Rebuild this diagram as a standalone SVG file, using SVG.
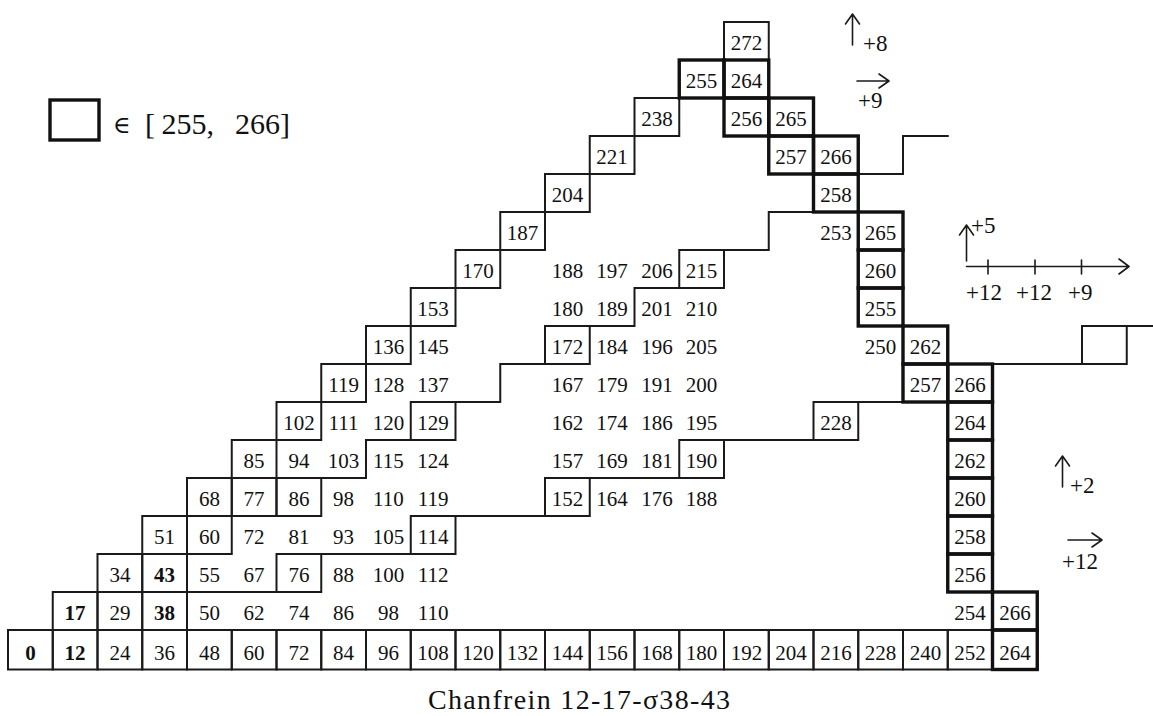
<svg xmlns="http://www.w3.org/2000/svg" width="1153" height="716" viewBox="0 0 1153 716">
<style>
.t{font-family:"Liberation Serif","Times New Roman",serif;font-size:21px;text-anchor:middle;fill:#111}
.b{font-weight:bold}
.bx{fill:none;stroke:#1a1a1a;stroke-width:2}
.tk{fill:none;stroke:#111;stroke-width:3.4}
.ln{fill:none;stroke:#1a1a1a;stroke-width:2;stroke-linecap:square}
.ar{fill:none;stroke:#1a1a1a;stroke-width:1.6;stroke-linecap:round;stroke-linejoin:round}
.lb{font-family:"Liberation Serif","Times New Roman",serif;font-size:23px;fill:#111}
</style>
<rect width="1153" height="716" fill="#fff"/>

<!-- row 0 -->
<g id="r0c0"><rect class="bx" x="8" y="630" width="44.75" height="39.5"/><text class="t b" x="30.4" y="659.5">0</text></g>
<g id="r0c1"><rect class="bx" x="52.75" y="630" width="44.75" height="39.5"/><text class="t b" x="75.1" y="659.5">12</text></g>
<g id="r0c2"><rect class="bx" x="97.5" y="630" width="44.75" height="39.5"/><text class="t" x="119.9" y="659.5">24</text></g>
<g id="r0c3"><rect class="bx" x="142.25" y="630" width="44.75" height="39.5"/><text class="t" x="164.6" y="659.5">36</text></g>
<g id="r0c4"><rect class="bx" x="187" y="630" width="44.75" height="39.5"/><text class="t" x="209.4" y="659.5">48</text></g>
<g id="r0c5"><rect class="bx" x="231.75" y="630" width="44.75" height="39.5"/><text class="t" x="254.1" y="659.5">60</text></g>
<g id="r0c6"><rect class="bx" x="276.5" y="630" width="44.75" height="39.5"/><text class="t" x="298.9" y="659.5">72</text></g>
<g id="r0c7"><rect class="bx" x="321.25" y="630" width="44.75" height="39.5"/><text class="t" x="343.6" y="659.5">84</text></g>
<g id="r0c8"><rect class="bx" x="366" y="630" width="44.75" height="39.5"/><text class="t" x="388.4" y="659.5">96</text></g>
<g id="r0c9"><rect class="bx" x="410.75" y="630" width="44.75" height="39.5"/><text class="t" x="433.1" y="659.5">108</text></g>
<g id="r0c10"><rect class="bx" x="455.5" y="630" width="44.75" height="39.5"/><text class="t" x="477.9" y="659.5">120</text></g>
<g id="r0c11"><rect class="bx" x="500.25" y="630" width="44.75" height="39.5"/><text class="t" x="522.6" y="659.5">132</text></g>
<g id="r0c12"><rect class="bx" x="545" y="630" width="44.75" height="39.5"/><text class="t" x="567.4" y="659.5">144</text></g>
<g id="r0c13"><rect class="bx" x="589.75" y="630" width="44.75" height="39.5"/><text class="t" x="612.1" y="659.5">156</text></g>
<g id="r0c14"><rect class="bx" x="634.5" y="630" width="44.75" height="39.5"/><text class="t" x="656.9" y="659.5">168</text></g>
<g id="r0c15"><rect class="bx" x="679.25" y="630" width="44.75" height="39.5"/><text class="t" x="701.6" y="659.5">180</text></g>
<g id="r0c16"><rect class="bx" x="724" y="630" width="44.75" height="39.5"/><text class="t" x="746.4" y="659.5">192</text></g>
<g id="r0c17"><rect class="bx" x="768.75" y="630" width="44.75" height="39.5"/><text class="t" x="791.1" y="659.5">204</text></g>
<g id="r0c18"><rect class="bx" x="813.5" y="630" width="44.75" height="39.5"/><text class="t" x="835.9" y="659.5">216</text></g>
<g id="r0c19"><rect class="bx" x="858.25" y="630" width="44.75" height="39.5"/><text class="t" x="880.6" y="659.5">228</text></g>
<g id="r0c20"><rect class="bx" x="903" y="630" width="44.75" height="39.5"/><text class="t" x="925.4" y="659.5">240</text></g>
<g id="r0c21"><rect class="bx" x="947.75" y="630" width="44.75" height="39.5"/><text class="t" x="970.1" y="659.5">252</text></g>

<!-- row 1 -->
<g id="r1c1"><rect class="bx" x="52.75" y="592" width="44.75" height="38"/><text class="t b" x="75.1" y="619.5">17</text></g>
<g id="r1c2"><rect class="bx" x="97.5" y="592" width="44.75" height="38"/><text class="t" x="119.9" y="619.5">29</text></g>
<g id="r1c3"><rect class="bx" x="142.25" y="592" width="44.75" height="38"/><text class="t b" x="164.6" y="619.5">38</text></g>
<g id="r1c4"><text class="t" x="209.4" y="619.5">50</text></g>
<g id="r1c5"><text class="t" x="254.1" y="619.5">62</text></g>
<g id="r1c6"><text class="t" x="298.9" y="619.5">74</text></g>
<g id="r1c7"><text class="t" x="343.6" y="619.5">86</text></g>
<g id="r1c8"><text class="t" x="388.4" y="619.5">98</text></g>
<g id="r1c9"><text class="t" x="433.1" y="619.5">110</text></g>
<g id="r1c21"><text class="t" x="970.1" y="619.5">254</text></g>

<!-- row 2 -->
<g id="r2c2"><rect class="bx" x="97.5" y="554" width="44.75" height="38"/><text class="t" x="119.9" y="581.5">34</text></g>
<g id="r2c3"><rect class="bx" x="142.25" y="554" width="44.75" height="38"/><text class="t b" x="164.6" y="581.5">43</text></g>
<g id="r2c4"><text class="t" x="209.4" y="581.5">55</text></g>
<g id="r2c5"><text class="t" x="254.1" y="581.5">67</text></g>
<g id="r2c6"><rect class="bx" x="276.5" y="554" width="44.75" height="38"/><text class="t" x="298.9" y="581.5">76</text></g>
<g id="r2c7"><text class="t" x="343.6" y="581.5">88</text></g>
<g id="r2c8"><text class="t" x="388.4" y="581.5">100</text></g>
<g id="r2c9"><text class="t" x="433.1" y="581.5">112</text></g>

<!-- row 3 -->
<g id="r3c3"><rect class="bx" x="142.25" y="516" width="44.75" height="38"/><text class="t" x="164.6" y="543.5">51</text></g>
<g id="r3c4"><rect class="bx" x="187" y="516" width="44.75" height="38"/><text class="t" x="209.4" y="543.5">60</text></g>
<g id="r3c5"><text class="t" x="254.1" y="543.5">72</text></g>
<g id="r3c6"><text class="t" x="298.9" y="543.5">81</text></g>
<g id="r3c7"><text class="t" x="343.6" y="543.5">93</text></g>
<g id="r3c8"><text class="t" x="388.4" y="543.5">105</text></g>
<g id="r3c9"><rect class="bx" x="410.75" y="516" width="44.75" height="38"/><text class="t" x="433.1" y="543.5">114</text></g>

<!-- row 4 -->
<g id="r4c4"><rect class="bx" x="187" y="478" width="44.75" height="38"/><text class="t" x="209.4" y="505.5">68</text></g>
<g id="r4c5"><rect class="bx" x="231.75" y="478" width="44.75" height="38"/><text class="t" x="254.1" y="505.5">77</text></g>
<g id="r4c6"><rect class="bx" x="276.5" y="478" width="44.75" height="38"/><text class="t" x="298.9" y="505.5">86</text></g>
<g id="r4c7"><text class="t" x="343.6" y="505.5">98</text></g>
<g id="r4c8"><text class="t" x="388.4" y="505.5">110</text></g>
<g id="r4c9"><text class="t" x="433.1" y="505.5">119</text></g>
<g id="r4c12"><rect class="bx" x="545" y="478" width="44.75" height="38"/><text class="t" x="567.4" y="505.5">152</text></g>
<g id="r4c13"><text class="t" x="612.1" y="505.5">164</text></g>
<g id="r4c14"><text class="t" x="656.9" y="505.5">176</text></g>
<g id="r4c15"><text class="t" x="701.6" y="505.5">188</text></g>

<!-- row 5 -->
<g id="r5c5"><rect class="bx" x="231.75" y="440" width="44.75" height="38"/><text class="t" x="254.1" y="467.5">85</text></g>
<g id="r5c6"><text class="t" x="298.9" y="467.5">94</text></g>
<g id="r5c7"><text class="t" x="343.6" y="467.5">103</text></g>
<g id="r5c8"><text class="t" x="388.4" y="467.5">115</text></g>
<g id="r5c9"><text class="t" x="433.1" y="467.5">124</text></g>
<g id="r5c12"><text class="t" x="567.4" y="467.5">157</text></g>
<g id="r5c13"><text class="t" x="612.1" y="467.5">169</text></g>
<g id="r5c14"><text class="t" x="656.9" y="467.5">181</text></g>
<g id="r5c15"><rect class="bx" x="679.25" y="440" width="44.75" height="38"/><text class="t" x="701.6" y="467.5">190</text></g>

<!-- row 6 -->
<g id="r6c6"><rect class="bx" x="276.5" y="402" width="44.75" height="38"/><text class="t" x="298.9" y="429.5">102</text></g>
<g id="r6c7"><text class="t" x="343.6" y="429.5">111</text></g>
<g id="r6c8"><text class="t" x="388.4" y="429.5">120</text></g>
<g id="r6c9"><rect class="bx" x="410.75" y="402" width="44.75" height="38"/><text class="t" x="433.1" y="429.5">129</text></g>
<g id="r6c12"><text class="t" x="567.4" y="429.5">162</text></g>
<g id="r6c13"><text class="t" x="612.1" y="429.5">174</text></g>
<g id="r6c14"><text class="t" x="656.9" y="429.5">186</text></g>
<g id="r6c15"><text class="t" x="701.6" y="429.5">195</text></g>
<g id="r6c18"><rect class="bx" x="813.5" y="402" width="44.75" height="38"/><text class="t" x="835.9" y="429.5">228</text></g>

<!-- row 7 -->
<g id="r7c7"><rect class="bx" x="321.25" y="364" width="44.75" height="38"/><text class="t" x="343.6" y="391.5">119</text></g>
<g id="r7c8"><text class="t" x="388.4" y="391.5">128</text></g>
<g id="r7c9"><text class="t" x="433.1" y="391.5">137</text></g>
<g id="r7c12"><text class="t" x="567.4" y="391.5">167</text></g>
<g id="r7c13"><text class="t" x="612.1" y="391.5">179</text></g>
<g id="r7c14"><text class="t" x="656.9" y="391.5">191</text></g>
<g id="r7c15"><text class="t" x="701.6" y="391.5">200</text></g>

<!-- row 8 -->
<g id="r8c8"><rect class="bx" x="366" y="326" width="44.75" height="38"/><text class="t" x="388.4" y="353.5">136</text></g>
<g id="r8c9"><text class="t" x="433.1" y="353.5">145</text></g>
<g id="r8c12"><rect class="bx" x="545" y="326" width="44.75" height="38"/><text class="t" x="567.4" y="353.5">172</text></g>
<g id="r8c13"><text class="t" x="612.1" y="353.5">184</text></g>
<g id="r8c14"><text class="t" x="656.9" y="353.5">196</text></g>
<g id="r8c15"><text class="t" x="701.6" y="353.5">205</text></g>
<g id="r8c19"><text class="t" x="880.6" y="353.5">250</text></g>
<g id="r8c24"><rect class="bx" x="1082" y="326" width="44.75" height="38"/></g>

<!-- row 9 -->
<g id="r9c9"><rect class="bx" x="410.75" y="288" width="44.75" height="38"/><text class="t" x="433.1" y="315.5">153</text></g>
<g id="r9c12"><text class="t" x="567.4" y="315.5">180</text></g>
<g id="r9c13"><text class="t" x="612.1" y="315.5">189</text></g>
<g id="r9c14"><text class="t" x="656.9" y="315.5">201</text></g>
<g id="r9c15"><text class="t" x="701.6" y="315.5">210</text></g>

<!-- row 10 -->
<g id="r10c10"><rect class="bx" x="455.5" y="250" width="44.75" height="38"/><text class="t" x="477.9" y="277.5">170</text></g>
<g id="r10c12"><text class="t" x="567.4" y="277.5">188</text></g>
<g id="r10c13"><text class="t" x="612.1" y="277.5">197</text></g>
<g id="r10c14"><text class="t" x="656.9" y="277.5">206</text></g>
<g id="r10c15"><rect class="bx" x="679.25" y="250" width="44.75" height="38"/><text class="t" x="701.6" y="277.5">215</text></g>

<!-- rows 11-16 -->
<g id="r11c11"><rect class="bx" x="500.25" y="212" width="44.75" height="38"/><text class="t" x="522.6" y="239.5">187</text></g>
<g id="r11c18"><text class="t" x="835.9" y="239.5">253</text></g>
<g id="r12c12"><rect class="bx" x="545" y="174" width="44.75" height="38"/><text class="t" x="567.4" y="201.5">204</text></g>
<g id="r13c13"><rect class="bx" x="589.75" y="136" width="44.75" height="38"/><text class="t" x="612.1" y="163.5">221</text></g>
<g id="r14c14"><rect class="bx" x="634.5" y="98" width="44.75" height="38"/><text class="t" x="656.9" y="125.5">238</text></g>
<g id="r16c16"><rect class="bx" x="724" y="22" width="44.75" height="38"/><text class="t" x="746.4" y="49.5">272</text></g>

<!-- contour lines -->
<g id="connectors">
<path class="ln" d="M187,592 H276.5"/>
<path class="ln" d="M321.25,554 H410.75"/>
<path class="ln" d="M321.25,478 H366 V440 H410.75"/>
<path class="ln" d="M455.5,516 H545"/>
<path class="ln" d="M589.75,478 H679.25"/>
<path class="ln" d="M724,440 H813.5"/>
<path class="ln" d="M455.5,402 H500.25 V364 H545"/>
<path class="ln" d="M589.75,326 H634.5 V288 H679.25"/>
<path class="ln" d="M724,250 H768.75 V212 H813.5"/>
<path class="ln" d="M858.25,402 H903"/>
<path class="ln" d="M858.25,174 H903 V136 H947.75"/>
<path class="ln" d="M992.5,364 H1082"/>
<path class="ln" d="M1126.75,326 H1153"/>
</g>

<!-- cells in [255, 266], thick -->
<g id="r15c15"><rect class="tk" x="679.25" y="60" width="44.75" height="38"/><text class="t" x="701.6" y="87.5">255</text></g>
<g id="r15c16"><rect class="tk" x="724" y="60" width="44.75" height="38"/><text class="t" x="746.4" y="87.5">264</text></g>
<g id="r14c16"><rect class="tk" x="724" y="98" width="44.75" height="38"/><text class="t" x="746.4" y="125.5">256</text></g>
<g id="r14c17"><rect class="tk" x="768.75" y="98" width="44.75" height="38"/><text class="t" x="791.1" y="125.5">265</text></g>
<g id="r13c17"><rect class="tk" x="768.75" y="136" width="44.75" height="38"/><text class="t" x="791.1" y="163.5">257</text></g>
<g id="r13c18"><rect class="tk" x="813.5" y="136" width="44.75" height="38"/><text class="t" x="835.9" y="163.5">266</text></g>
<g id="r12c18"><rect class="tk" x="813.5" y="174" width="44.75" height="38"/><text class="t" x="835.9" y="201.5">258</text></g>
<g id="r11c19"><rect class="tk" x="858.25" y="212" width="44.75" height="38"/><text class="t" x="880.6" y="239.5">265</text></g>
<g id="r10c19"><rect class="tk" x="858.25" y="250" width="44.75" height="38"/><text class="t" x="880.6" y="277.5">260</text></g>
<g id="r9c19"><rect class="tk" x="858.25" y="288" width="44.75" height="38"/><text class="t" x="880.6" y="315.5">255</text></g>
<g id="r8c20"><rect class="tk" x="903" y="326" width="44.75" height="38"/><text class="t" x="925.4" y="353.5">262</text></g>
<g id="r7c20"><rect class="tk" x="903" y="364" width="44.75" height="38"/><text class="t" x="925.4" y="391.5">257</text></g>
<g id="r7c21"><rect class="tk" x="947.75" y="364" width="44.75" height="38"/><text class="t" x="970.1" y="391.5">266</text></g>
<g id="r6c21"><rect class="tk" x="947.75" y="402" width="44.75" height="38"/><text class="t" x="970.1" y="429.5">264</text></g>
<g id="r5c21"><rect class="tk" x="947.75" y="440" width="44.75" height="38"/><text class="t" x="970.1" y="467.5">262</text></g>
<g id="r4c21"><rect class="tk" x="947.75" y="478" width="44.75" height="38"/><text class="t" x="970.1" y="505.5">260</text></g>
<g id="r3c21"><rect class="tk" x="947.75" y="516" width="44.75" height="38"/><text class="t" x="970.1" y="543.5">258</text></g>
<g id="r2c21"><rect class="tk" x="947.75" y="554" width="44.75" height="38"/><text class="t" x="970.1" y="581.5">256</text></g>
<g id="r1c22"><rect class="tk" x="992.5" y="592" width="44.75" height="38"/><text class="t" x="1014.9" y="619.5">266</text></g>
<g id="r0c22"><rect class="tk" x="992.5" y="630" width="44.75" height="39.5"/><text class="t" x="1014.9" y="659.5">264</text></g>

<!-- legend -->
<g id="legend">
<rect class="tk" x="50" y="100" width="49" height="40"/>
<text x="113" y="133" style="font-family:'DejaVu Serif',serif;font-size:24px;fill:#111">∈</text>
<text x="145" y="134" style="font-family:'Liberation Serif',serif;font-size:30px;fill:#111">[</text>
<text x="161.5" y="134" style="font-family:'Liberation Serif',serif;font-size:30px;fill:#111">255,</text>
<text x="235" y="134" style="font-family:'Liberation Serif',serif;font-size:30px;fill:#111">266]</text>
</g>

<!-- direction annotations -->
<g id="dir-up8"><path class="ar" d="M852.5,45 V14 M845.5,24 L852.5,14 L859.5,24"/><text class="lb" x="863" y="51">+8</text></g>
<g id="dir-right9"><path class="ar" d="M857,81 H889 M879,74 L889,81 L879,88"/><text class="lb" x="858" y="108">+9</text></g>
<g id="dir-up2"><path class="ar" d="M1062.5,487 V456 M1055.5,466 L1062.5,456 L1069.5,466"/><text class="lb" x="1070" y="493">+2</text></g>
<g id="dir-right12"><path class="ar" d="M1068,540 H1102 M1092,533 L1102,540 L1092,547"/><text class="lb" x="1062" y="569">+12</text></g>
<g id="axis">
<path class="ar" d="M966.5,261 V225 M959.5,235 L966.5,225 L973.5,235"/>
<text class="lb" x="971" y="233">+5</text>
<path class="ar" d="M966.5,266.5 H1129 M1119,259 L1129,266.5 L1119,274"/>
<path class="ar" d="M988,260 V274 M1035,260 V274 M1081.5,260 V274"/>
<text class="lb" x="966" y="300">+12</text>
<text class="lb" x="1016" y="300">+12</text>
<text class="lb" x="1068" y="300">+9</text>
</g>

<!-- caption -->
<g id="caption"><text x="428" y="709" textLength="302" lengthAdjust="spacing" style="font-family:'Liberation Serif','Times New Roman',serif;font-size:28px;fill:#111">Chanfrein 12-17-σ38-43</text></g>
</svg>
